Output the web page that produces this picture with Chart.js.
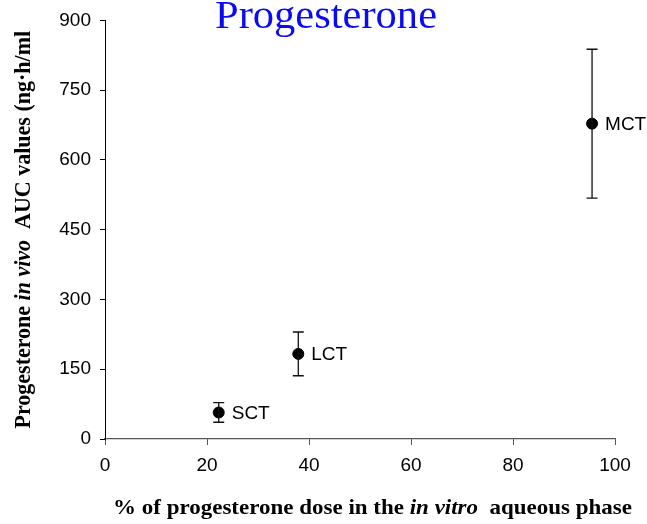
<!DOCTYPE html>
<html>
<head>
<meta charset="utf-8">
<script src="https://cdn.jsdelivr.net/npm/chart.js@4/dist/chart.umd.min.js"></script>
<style>
html,body{margin:0;padding:0;background:#fff;}
#c{display:block;}
</style>
</head>
<body>
<canvas id="c" width="647" height="524"></canvas>
<script>
// ---- data ----
const categories = ['SCT', 'LCT', 'MCT'];
const xValues = [22.3, 37.9, 95.5];          // % of dose in in-vitro aqueous phase
const yValues = [57, 183, 678];               // AUC (ng·h/ml)
const yErrors = [21, 47, 160];                // +/- error
const xTicks = [0, 20, 40, 60, 80, 100];
const yTicks = [0, 150, 300, 450, 600, 750, 900];
const titleText = 'Progesterone';

const points = xValues.map((x, i) => ({x: x, y: yValues[i]}));

const errorBarPlugin = {
  id: 'errorBars',
  afterDatasetsDraw(chart) {
    const ctx = chart.ctx;
    const xs = chart.scales.x, ys = chart.scales.y;
    ctx.save();
    ctx.strokeStyle = '#111';
    ctx.lineWidth = 1.3;
    xValues.forEach((xv, i) => {
      const px = xs.getPixelForValue(xv);
      const top = ys.getPixelForValue(yValues[i] + yErrors[i]);
      const bot = ys.getPixelForValue(yValues[i] - yErrors[i]);
      ctx.beginPath();
      ctx.moveTo(px, top); ctx.lineTo(px, bot);
      ctx.moveTo(px - 5.5, top); ctx.lineTo(px + 5.5, top);
      ctx.moveTo(px - 5.5, bot); ctx.lineTo(px + 5.5, bot);
      ctx.stroke();
    });
    // point labels
    ctx.fillStyle = '#000';
    ctx.font = '19px "Liberation Sans", Arial, sans-serif';
    ctx.textAlign = 'left';
    ctx.textBaseline = 'middle';
    categories.forEach((c, i) => {
      const px = xs.getPixelForValue(xValues[i]);
      const py = ys.getPixelForValue(yValues[i]);
      ctx.fillText(c, px + 13, py + 1);
    });
    ctx.restore();
  }
};

const FONT = '22px "Liberation Serif", "Times New Roman", serif';
function measureMixed(ctx, parts) {
  let total = 0;
  parts.forEach(p => {
    ctx.font = (p[1] ? 'italic bold ' : 'bold ') + FONT;
    total += ctx.measureText(p[0]).width;
  });
  return total;
}
function drawMixed(ctx, parts, x, y) {
  const total = measureMixed(ctx, parts);
  let cx = x - total / 2;
  parts.forEach(p => {
    ctx.font = (p[1] ? 'italic bold ' : 'bold ') + FONT;
    ctx.fillText(p[0], cx, y);
    cx += ctx.measureText(p[0]).width;
  });
}

const textPlugin = {
  id: 'texts',
  afterDraw(chart) {
    const ctx = chart.ctx;
    const area = chart.chartArea;
    ctx.save();
    // title (stretched horizontally like the reference)
    ctx.fillStyle = '#0a0af5';
    ctx.font = '39px "Liberation Serif", "Times New Roman", serif';
    ctx.textAlign = 'left';
    ctx.textBaseline = 'alphabetic';
    const tw = ctx.measureText(titleText).width;
    ctx.save();
    ctx.translate(215, 28);
    ctx.scale(222 / tw, 1);
    ctx.fillText(titleText, 0, 0);
    ctx.restore();
    // x axis title
    ctx.fillStyle = '#000';
    const xParts = [['% of progesterone dose in the ', false], ['in vitro', true], ['  aqueous phase', false]];
    const xw = measureMixed(ctx, xParts);
    ctx.save();
    ctx.translate(372.5, 514);
    ctx.scale(519 / xw, 1);
    drawMixed(ctx, xParts, 0, 0);
    ctx.restore();
    // y axis title
    ctx.save();
    ctx.translate(30, (area.top + area.bottom) / 2);
    ctx.rotate(-Math.PI / 2);
    ctx.scale(1, 1.06);
    drawMixed(ctx, [['Progesterone ', false], ['in vivo', true], ['  AUC values (ng\u00b7h/ml', false]], 0, 0);
    ctx.restore();
    ctx.restore();
  }
};

new Chart(document.getElementById('c'), {
  type: 'scatter',
  data: {
    datasets: [{
      data: points,
      pointRadius: 5.5,
      pointHoverRadius: 5.5,
      backgroundColor: '#000',
      borderColor: '#000',
      showLine: false
    }]
  },
  options: {
    responsive: false,
    animation: false,
    devicePixelRatio: 1,
    layout: {padding: {left: 0, top: 19.5, right: 32, bottom: 0}},
    plugins: {legend: {display: false}, tooltip: {enabled: false}, title: {display: false}},
    scales: {
      x: {
        type: 'linear', min: 0, max: 100,
        afterBuildTicks: s => { s.ticks = xTicks.map(v => ({value: v})); },
        afterFit: s => { s.height = 85; },
        ticks: {color: '#000', padding: 9, maxRotation: 0,
          font: {family: '"Liberation Sans", Arial, sans-serif', size: 19}},
        grid: {drawOnChartArea: false, drawTicks: true, tickLength: 6, color: '#555', lineWidth: 1},
        border: {display: true, color: '#555', width: 1.2}
      },
      y: {
        type: 'linear', min: 0, max: 900,
        afterBuildTicks: s => { s.ticks = yTicks.map(v => ({value: v})); },
        afterFit: s => { s.width = 105; },
        ticks: {color: '#000', padding: 9,
          font: {family: '"Liberation Sans", Arial, sans-serif', size: 19}},
        grid: {drawOnChartArea: false, drawTicks: true, tickLength: 5, color: '#000', lineWidth: 1},
        border: {display: true, color: '#000', width: 1}
      }
    }
  },
  plugins: [errorBarPlugin, textPlugin]
});
</script>
</body>
</html>
